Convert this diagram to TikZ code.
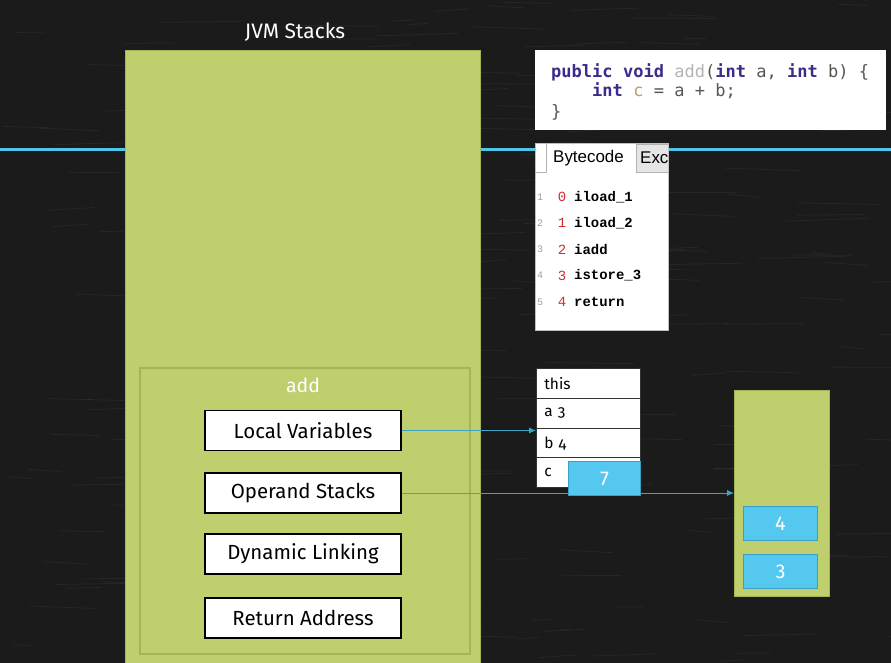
\documentclass[tikz,border=0pt]{standalone}
\usepackage{fontspec}
\setmainfont{Fira Sans}
\newfontfamily\tablefont[Numbers=OldStyle]{Fira Sans}
\newfontfamily\codefont{DejaVu Sans Mono}
\newfontfamily\bcfont{Liberation Mono}
\newfontfamily\uifont{Liberation Sans}
\usetikzlibrary{arrows.meta}
\definecolor{board}{HTML}{1B1B1B}
\definecolor{leaf}{HTML}{BFCF6E}
\definecolor{leafedge}{HTML}{A3B557}
\definecolor{sky}{HTML}{55C8F0}
\definecolor{skyedge}{HTML}{3A9FC6}
\definecolor{wire}{HTML}{3CA4C4}
\definecolor{rule}{HTML}{52C6EA}
\definecolor{kw}{HTML}{3A2B8C}
\definecolor{ident}{HTML}{B4B4B4}
\definecolor{plain}{HTML}{555555}
\definecolor{localvar}{HTML}{B5A06A}
\definecolor{opnum}{HTML}{D42A2A}
\definecolor{lineno}{HTML}{A0A0A0}
\tikzset{
  panel/.style={draw=leafedge, fill=leaf, line width=1bp, inner sep=0pt},
  part/.style={draw=black, fill=white, line width=1.2bp, inner sep=0pt,
    minimum width=196bp, minimum height=40bp, font=\fontsize{20.5}{23}\selectfont},
  cell/.style={draw=black!80, fill=white, line width=0.8bp, inner sep=0pt,
    minimum width=104bp, minimum height=30bp, text width=88bp, align=left,
    font=\tablefont\fontsize{15.5}{17}\selectfont},
  slot/.style={draw=skyedge, fill=sky, line width=1bp, inner sep=0pt,
    text=white, font=\fontsize{20}{22}\selectfont},
  link/.style={draw=wire, line width=0.9bp, -{Latex[length=7bp,width=6bp]}},
  code/.style={anchor=west, inner sep=0pt, font=\codefont\fontsize{17.1}{19}\selectfont},
  bc/.style={anchor=west, inner sep=0pt, font=\bcfont\bfseries\fontsize{14}{16}\selectfont},
  bcnum/.style={anchor=center, inner sep=0pt, text=opnum, font=\bcfont\fontsize{14}{16}\selectfont},
  bcline/.style={anchor=center, inner sep=0pt, text=lineno, font=\bcfont\fontsize{10}{12}\selectfont},
  scratch/.style={draw=white, opacity=0.05, line width=0.8bp},
}
\begin{document}
\begin{tikzpicture}[x={(1bp,0)}, y={(0,-1bp)}]
  % chalkboard
  \fill[board] (0,0) rectangle (891,663);
  \useasboundingbox (0,0) rectangle (891,663);
  \pgfmathsetseed{7}
  \foreach \s in {1,...,260} {
    \pgfmathsetmacro\sx{891*rnd}
    \pgfmathsetmacro\sy{663*rnd}
    \pgfmathsetmacro\sl{20+70*rnd}
    \pgfmathsetmacro\sd{6*rnd-3}
    \draw[scratch] (\sx,\sy) -- ++(\sl,\sd);
  }
  \draw[rule, line width=2.6bp] (0,149.5) -- (891,149.5);

  % JVM stack column
  \node[white, font=\fontsize{21}{23}\selectfont] (title) at (295,32) {JVM Stacks};
  \node[panel, minimum width=355bp, minimum height=615bp, anchor=north west] (stack) at (125,50) {};
  \node[draw=leafedge, line width=1.5bp, minimum width=330bp, minimum height=286bp,
        anchor=north west, inner sep=0pt] (frame) at (139,367) {};
  \node[white, font=\fontsize{19.5}{21}\selectfont] (fname) at (303,385) {add};
  \node[part] (lv) at (303,430.5) {Local Variables};
  \node[part] (os) at (303,493) {Operand Stacks};
  \node[part] (dl) at (303,554) {Dynamic Linking};
  \node[part] (ra) at (303,618) {Return Address};

  % source code
  \node[fill=white, minimum width=351bp, minimum height=80bp, anchor=north west, inner sep=0pt] (src) at (535,50) {};
  \node[code] (l1) at (551,72) {\textcolor{kw}{\bfseries public}\ \textcolor{kw}{\bfseries void}\ \textcolor{ident}{add}\textcolor{plain}{(}\textcolor{kw}{\bfseries int}\ \textcolor{plain}{a,}\ \textcolor{kw}{\bfseries int}\ \textcolor{plain}{b)}\ \textcolor{plain}{\{}};
  \node[code] (l2) at (551,91) {\ \ \ \ \textcolor{kw}{\bfseries int}\ \textcolor{localvar}{c}\ \textcolor{plain}{=}\ \textcolor{plain}{a}\ \textcolor{plain}{+}\ \textcolor{plain}{b;}};
  \node[code] (l3) at (551,112) {\textcolor{plain}{\}}};

  % bytecode view
  \node[fill=white, draw=black!25, minimum width=133bp, minimum height=187bp, anchor=north west, inner sep=0pt] (bcv) at (535,143) {};
  \begin{scope}
    \clip (535,143) rectangle (668,330);
    \node[fill=black!10, draw=black!30, minimum width=34bp, minimum height=28bp, anchor=north west, inner sep=0pt] (tabx) at (636,144) {};
    \node[anchor=west, inner sep=0pt, font=\uifont\fontsize{17}{19}\selectfont] (tabxt) at (640,158) {Exc};
  \end{scope}
  \draw[black!30, line width=0.8bp] (546,143) -- (546,172) -- (535,172);
  \node[anchor=west, inner sep=0pt, font=\uifont\fontsize{17}{19}\selectfont] (tabb) at (553,158) {Bytecode};
  \foreach \i/\n/\op [count=\k from 0] in {1/0/iload\_1, 2/1/iload\_2, 3/2/iadd, 4/3/istore\_3, 5/4/return} {
    \pgfmathsetmacro\yy{197+26.2*\k}
    \node[bcline] (ln\i) at (540,\yy) {\i};
    \node[bcnum] (on\i) at (562,\yy) {\n};
    \node[bc] (op\i) at (574,\yy) {\op};
  }

  % local variable table
  \node[cell, anchor=north west] (rthis) at (536,368) {this};
  \node[cell, anchor=north west] (ra3) at (536,398) {a 3};
  \node[cell, anchor=north west] (rb4) at (536,428) {b 4};
  \node[cell, anchor=north west] (rc) at (536,457) {c};

  % operand stack
  \node[panel, minimum width=95bp, minimum height=206bp, anchor=north west] (ostk) at (734,390) {};

  % connectors
  \draw[link] (lv.east) -- (lv.east -| rb4.west);
  \draw[link] (os.east) -- (os.east -| ostk.west);

  % values
  \node[slot, minimum width=72bp, minimum height=34bp, anchor=north west] (v7) at (568,461) {7};
  \node[slot, minimum width=74bp, minimum height=34bp, anchor=north west] (v4) at (743,506) {4};
  \node[slot, minimum width=74bp, minimum height=34bp, anchor=north west] (v3) at (743,554) {3};
\end{tikzpicture}
\end{document}
